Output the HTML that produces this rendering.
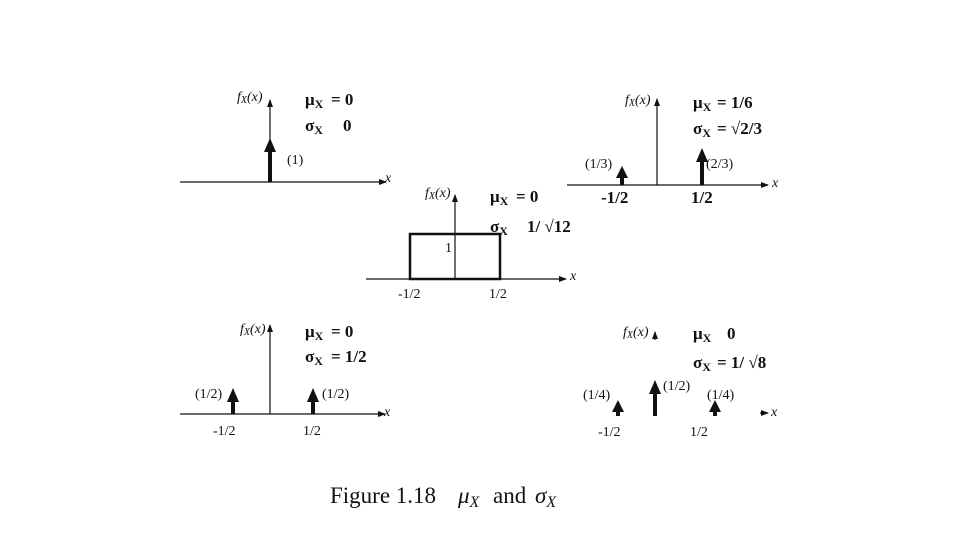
<!DOCTYPE html>
<html><head><meta charset="utf-8"><style>
html,body{margin:0;padding:0;background:#fff;width:960px;height:540px;overflow:hidden}
svg{display:block}
text{font-family:"Liberation Serif",serif;fill:#111}
.l{font-size:14px}
.b{font-size:17px;font-weight:bold}
.i{font-style:italic}
</style></head><body>
<svg width="960" height="540" viewBox="0 0 960 540">
<defs>
<marker id="a" markerWidth="8" markerHeight="6" refX="7" refY="3" orient="auto" markerUnits="userSpaceOnUse"><path d="M0,0 L8,3 L0,6z" fill="#111"/></marker>
</defs>
<g stroke="#111" stroke-width="1.2" fill="none">
<line x1="180" y1="182" x2="386" y2="182" marker-end="url(#a)"/>
<line x1="270" y1="182" x2="270" y2="100" marker-end="url(#a)"/>
<line x1="366" y1="279" x2="566" y2="279" marker-end="url(#a)"/>
<line x1="455" y1="279" x2="455" y2="195" marker-end="url(#a)"/>
<rect x="410" y="234" width="90" height="45" stroke-width="2.5"/>
<line x1="567" y1="185" x2="768" y2="185" marker-end="url(#a)"/>
<line x1="657" y1="185" x2="657" y2="99" marker-end="url(#a)"/>
<line x1="180" y1="414" x2="385" y2="414" marker-end="url(#a)"/>
<line x1="270" y1="414" x2="270" y2="325" marker-end="url(#a)"/>
<line x1="760" y1="413" x2="768" y2="413" marker-end="url(#a)"/>
<line x1="655" y1="340" x2="655" y2="332" marker-end="url(#a)"/>
</g>
<g fill="#111">
<rect x="268" y="150" width="4" height="32"/><path d="M264,152 L270,138 L276,152z"/>
<rect x="620" y="176" width="4" height="9"/><path d="M616,178 L622,166 L628,178z"/>
<rect x="700" y="160" width="4" height="25"/><path d="M696,162 L702,148 L708,162z"/>
<rect x="231" y="400" width="4" height="14"/><path d="M227,402 L233,388 L239,402z"/>
<rect x="311" y="400" width="4" height="14"/><path d="M307,402 L313,388 L319,402z"/>
<rect x="616" y="410" width="4" height="6"/><path d="M612,412 L618,400 L624,412z"/>
<rect x="653" y="392" width="4" height="24"/><path d="M649,394 L655,380 L661,394z"/>
<rect x="713" y="410" width="4" height="6"/><path d="M709,412 L715,400 L721,412z"/>
</g>
<!-- panel1 -->
<text class="l i" x="237" y="101">f<tspan font-size="10" dy="2">X</tspan><tspan dy="-2">(x)</tspan></text>
<text class="b" x="305" y="105">μ<tspan font-size="12" dy="3">X</tspan></text><text class="b" x="331" y="105">= 0</text>
<text class="b" x="305" y="131">σ<tspan font-size="12" dy="3">X</tspan></text><text class="b" x="343" y="131">0</text>
<text class="l" x="287" y="164">(1)</text>
<text class="l i" x="385" y="182">x</text>
<!-- panel2 -->
<text class="l i" x="425" y="197">f<tspan font-size="10" dy="2">X</tspan><tspan dy="-2">(x)</tspan></text>
<text class="b" x="490" y="202">μ<tspan font-size="12" dy="3">X</tspan></text><text class="b" x="516" y="202">= 0</text>
<text class="b" x="490" y="232">σ<tspan font-size="12" dy="3">X</tspan></text><text class="b" x="527" y="232">1/ √12</text>
<text class="l" x="445" y="252">1</text>
<text class="l" x="398" y="298">-1/2</text>
<text class="l" x="489" y="298">1/2</text>
<text class="l i" x="570" y="280">x</text>
<!-- panel3 -->
<text class="l i" x="625" y="104">f<tspan font-size="10" dy="2">X</tspan><tspan dy="-2">(x)</tspan></text>
<text class="b" x="693" y="108">μ<tspan font-size="12" dy="3">X</tspan></text><text class="b" x="717" y="108">= 1/6</text>
<text class="b" x="693" y="134">σ<tspan font-size="12" dy="3">X</tspan></text><text class="b" x="717" y="134">= √2/3</text>
<text class="l" x="585" y="168">(1/3)</text>
<text class="l" x="706" y="168">(2/3)</text>
<text class="b" x="601" y="203" font-size="14">-1/2</text>
<text class="b" x="691" y="203" font-size="14">1/2</text>
<text class="l i" x="772" y="187">x</text>
<!-- panel4 -->
<text class="l i" x="240" y="333">f<tspan font-size="10" dy="2">X</tspan><tspan dy="-2">(x)</tspan></text>
<text class="b" x="305" y="337">μ<tspan font-size="12" dy="3">X</tspan></text><text class="b" x="331" y="337">= 0</text>
<text class="b" x="305" y="362">σ<tspan font-size="12" dy="3">X</tspan></text><text class="b" x="331" y="362">= 1/2</text>
<text class="l" x="195" y="398">(1/2)</text>
<text class="l" x="322" y="398">(1/2)</text>
<text class="l" x="213" y="435">-1/2</text>
<text class="l" x="303" y="435">1/2</text>
<text class="l i" x="384" y="416">x</text>
<!-- panel5 -->
<text class="l i" x="623" y="336">f<tspan font-size="10" dy="2">X</tspan><tspan dy="-2">(x)</tspan></text>
<text class="b" x="693" y="339">μ<tspan font-size="12" dy="3">X</tspan></text><text class="b" x="727" y="339">0</text>
<text class="b" x="693" y="368">σ<tspan font-size="12" dy="3">X</tspan></text><text class="b" x="717" y="368">= 1/ √8</text>
<text class="l" x="583" y="399">(1/4)</text>
<text class="l" x="663" y="390">(1/2)</text>
<text class="l" x="707" y="399">(1/4)</text>
<text class="l" x="598" y="436">-1/2</text>
<text class="l" x="690" y="436">1/2</text>
<text class="l i" x="771" y="416">x</text>
<!-- caption -->
<text x="330" y="503" font-size="23">Figure 1.18</text>
<text x="458" y="503" font-size="23" font-style="italic">μ<tspan font-size="16" dy="4">X</tspan></text>
<text x="493" y="503" font-size="23">and</text>
<text x="535" y="503" font-size="23" font-style="italic">σ<tspan font-size="16" dy="4">X</tspan></text>
</svg>
</body></html>
